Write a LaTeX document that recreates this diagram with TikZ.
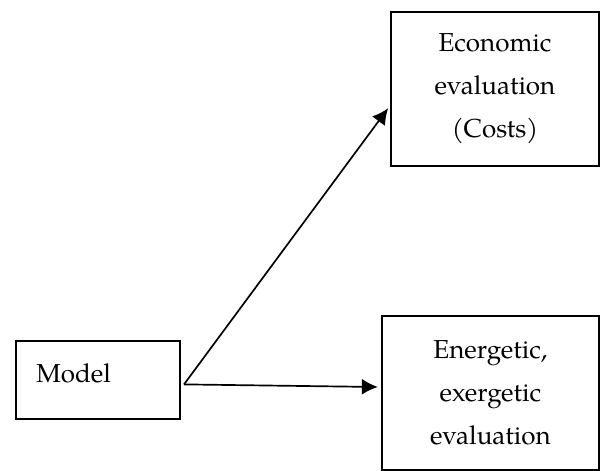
\documentclass[tikz,border=0pt]{standalone}
\usepackage{fontspec}
\setmainfont{TeX Gyre Pagella}
\usepackage{tikz}
\usetikzlibrary{arrows.meta, positioning, calc}

\tikzset{
    box/.style={draw=black, line width=1.2pt, inner sep=0pt, align=center,
        font=\fontsize{18.5}{30.6}\selectfont},
    flow/.style={line width=1.2pt, -{Latex[length=4mm, width=4mm]}}
}

\begin{document}
\begin{tikzpicture}
        \useasboundingbox (0, 0) rectangle (15, -11.775);

        \node[box, minimum width=4.1cm, minimum height=1.95cm] (model) at (2.45, -9.5) {};
        \node[anchor=west, font=\fontsize{18.5}{30.6}\selectfont, inner sep=0pt] (modeltext) at (0.9, -9.33) {Model};

        \node[box, minimum width=5.2cm, minimum height=3.85cm] (econ) at (12.375, -2.225)
            {Economic\\evaluation\\(Costs)};
        \node[box, minimum width=5.425cm, minimum height=3.85cm] (ener) at (12.26, -9.825)
            {Energetic,\\exergetic\\evaluation};

        \coordinate (start) at (4.6, -9.61);
        \draw[flow] (start) -- ($(econ.west) + (-0.05, -0.48)$);
        \draw[flow] (start) -- ($(ener.west) + (-0.08, 0.15)$);

      \end{tikzpicture}
\end{document}
